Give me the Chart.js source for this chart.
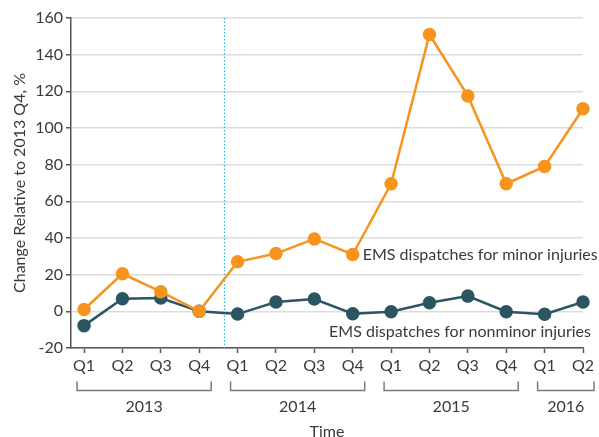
<!DOCTYPE html>
<html>
<head>
<meta charset="utf-8">
<script src="https://cdn.jsdelivr.net/npm/chart.js@4"></script>
<style>
  html, body { margin: 0; padding: 0; background: #fff; }
  #wrap { width: 599px; height: 437px; }
</style>
</head>
<body>
<div id="wrap"><canvas id="emsChart" width="599" height="437"></canvas></div>
<script>
const quarters = ['Q1', 'Q2', 'Q3', 'Q4', 'Q1', 'Q2', 'Q3', 'Q4', 'Q1', 'Q2', 'Q3', 'Q4', 'Q1', 'Q2'];
const years = [
  { label: '2013', from: 0, to: 3 },
  { label: '2014', from: 4, to: 7 },
  { label: '2015', from: 8, to: 11 },
  { label: '2016', from: 12, to: 13 }
];
const minorInjuries = [1, 20.5, 10.7, 0, 27, 31.5, 39.5, 31, 69.6, 151, 117.5, 69.6, 79, 110.5];
const nonminorInjuries = [-7.8, 6.9, 7.3, 0, -1.5, 5.1, 6.7, -1.3, -0.2, 4.7, 8.3, -0.2, -1.6, 5.1];
const yTicks = [-20, 0, 20, 40, 60, 80, 100, 120, 140, 160];
const policyChange = 3.65; // dotted marker between 2013 Q4 and 2014 Q1

const FONT = 'Lato, "DejaVu Sans", sans-serif';
const TEXT = '#3a3a3a';
const ORANGE = '#f7941d';
const TEAL = '#2c5563';

const toPoints = arr => arr.map((v, i) => ({ x: i, y: v }));

// extra bits: dotted marker, series labels, year brackets, axis title
const annotate = {
  id: 'annotate',
  beforeDatasetsDraw(chart) {
    const { ctx, chartArea, scales: { x } } = chart;
    const px = Math.round(x.getPixelForValue(policyChange)) + 0.5;
    ctx.save();
    ctx.strokeStyle = '#29b4e6';
    ctx.lineWidth = 1.2;
    ctx.setLineDash([1.5, 2]);
    ctx.beginPath();
    ctx.moveTo(px, chartArea.top);
    ctx.lineTo(px, chartArea.bottom);
    ctx.stroke();
    ctx.restore();
  },
  afterDraw(chart) {
    const { ctx, chartArea, scales: { x, y } } = chart;
    ctx.save();

    // series labels
    ctx.fillStyle = TEXT;
    ctx.font = '16px ' + FONT;
    ctx.textBaseline = 'middle';
    ctx.textAlign = 'left';
    ctx.fillText('EMS dispatches for minor injuries',
      x.getPixelForValue(7) + 10, y.getPixelForValue(minorInjuries[7]));
    ctx.textAlign = 'right';
    ctx.fillText('EMS dispatches for nonminor injuries',
      chartArea.right + 8, y.getPixelForValue(-11));

    // year brackets
    const by = chartArea.bottom + 42.5;
    ctx.strokeStyle = '#7a7a7a';
    ctx.lineWidth = 1.5;
    ctx.textAlign = 'center';
    ctx.textBaseline = 'middle';
    years.forEach(yr => {
      const x0 = x.getPixelForValue(yr.from) - 7;
      const x1 = x.getPixelForValue(yr.to) + (yr.to === 13 ? 11 : 12);
      ctx.beginPath();
      ctx.moveTo(x0, by - 9);
      ctx.lineTo(x0, by);
      ctx.lineTo(x1, by);
      ctx.lineTo(x1, by - 9);
      ctx.stroke();
      ctx.fillText(yr.label, (x0 + x1) / 2, by + 16);
    });

    ctx.fillText('Time', (chartArea.left + chartArea.right) / 2, chartArea.bottom + 84);
    ctx.restore();
  }
};

const ctx = document.getElementById('emsChart').getContext('2d');
const emsChart = new Chart(ctx, {
  type: 'line',
  data: {
    datasets: [{
      label: 'EMS dispatches for minor injuries',
      data: toPoints(minorInjuries),
      borderColor: ORANGE,
      backgroundColor: ORANGE,
      pointBackgroundColor: ORANGE,
      pointBorderColor: ORANGE,
      borderWidth: 2.5,
      pointRadius: 5.5,
      tension: 0,
      clip: false
    }, {
      label: 'EMS dispatches for nonminor injuries',
      data: toPoints(nonminorInjuries),
      borderColor: TEAL,
      backgroundColor: TEAL,
      pointBackgroundColor: TEAL,
      pointBorderColor: TEAL,
      borderWidth: 2.5,
      pointRadius: 5.5,
      tension: 0,
      clip: false
    }]
  },
  options: {
    responsive: false,
    animation: false,
    events: [],
    layout: { padding: { top: 18, right: 16, left: 0, bottom: 0 } },
    plugins: {
      legend: { display: false },
      tooltip: { enabled: false }
    },
    scales: {
      x: {
        type: 'linear',
        min: -0.34,
        max: 13,
        afterBuildTicks: scale => { scale.ticks = quarters.map((q, i) => ({ value: i })); },
        afterFit: scale => { scale.height = 89; },
        ticks: {
          autoSkip: false,
          maxRotation: 0,
          color: TEXT,
          font: { family: FONT, size: 16 },
          padding: 3,
          callback: value => quarters[value]
        },
        grid: {
          drawOnChartArea: false,
          tickLength: 5,
          tickColor: '#555',
          tickWidth: 1.5
        },
        border: { color: '#555', width: 1.5 }
      },
      y: {
        min: -20,
        max: 160,
        afterBuildTicks: scale => { scale.ticks = yTicks.map(v => ({ value: v })); },
        afterFit: scale => { scale.width = 71; },
        ticks: {
          color: TEXT,
          font: { family: FONT, size: 16 },
          padding: 3
        },
        grid: {
          color: '#dcdcdc',
          lineWidth: 1.5,
          tickLength: 5,
          tickColor: '#555',
          tickWidth: 1.5
        },
        border: { color: '#555', width: 1.5 },
        title: {
          display: true,
          text: 'Change Relative to 2013 Q4, %',
          color: TEXT,
          font: { family: FONT, size: 16 },
          padding: { top: 10, bottom: 4 }
        }
      }
    }
  },
  plugins: [annotate]
});
</script>
</body>
</html>
